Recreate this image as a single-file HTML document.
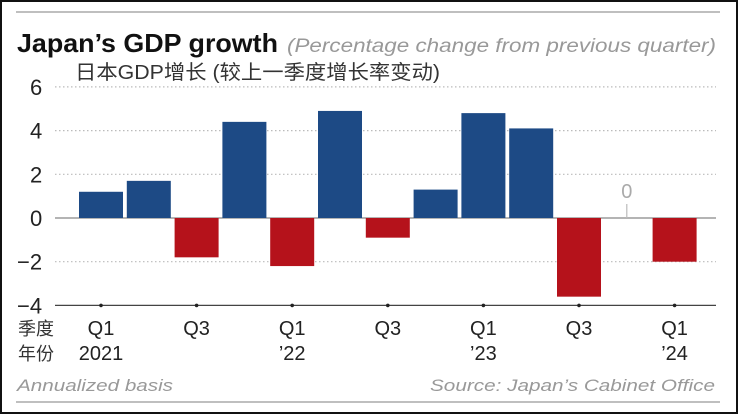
<!DOCTYPE html>
<html><head><meta charset="utf-8"><style>
html,body{margin:0;padding:0;background:#fff;}
body{width:738px;height:414px;overflow:hidden;position:relative;font-family:"Liberation Sans","Noto Sans CJK SC",sans-serif;}
#frame{position:absolute;left:0;top:0;width:734px;height:410px;border:2px solid #111;}
svg{position:absolute;left:0;top:0;}
</style></head><body>
<div id="frame"></div>
<svg id="chart" width="738" height="414">
<line x1="16" y1="12" x2="720" y2="12" stroke="#aaa" stroke-width="1.5"/>
<line x1="16" y1="402" x2="720" y2="402" stroke="#aaa" stroke-width="1.5"/>
<text x="17" y="52" font-size="26" font-weight="bold" fill="#111" textLength="261" lengthAdjust="spacingAndGlyphs">Japan’s GDP growth</text>
<text x="287" y="52" font-size="19" font-style="italic" fill="#999" textLength="429" lengthAdjust="spacingAndGlyphs">(Percentage change from previous quarter)</text>
<text x="75" y="79" font-size="20" fill="#333" textLength="365" lengthAdjust="spacingAndGlyphs">日本GDP增长 (较上一季度增长率变动)</text>
<g id="grid"></g>
<g id="bars"></g>
<g id="xaxis"></g>
<text x="18" y="335" font-size="18" fill="#333">季度</text>
<text x="18" y="360" font-size="18" fill="#333">年份</text>
<text x="17" y="391" font-size="17" font-style="italic" fill="#999" textLength="156" lengthAdjust="spacingAndGlyphs">Annualized basis</text>
<text x="430" y="391" font-size="17" font-style="italic" fill="#999" textLength="285" lengthAdjust="spacingAndGlyphs">Source: Japan’s Cabinet Office</text>
</svg>
<script>
const categories=["Q1 2021","Q2 2021","Q3 2021","Q4 2021","Q1 2022","Q2 2022","Q3 2022","Q4 2022","Q1 2023","Q2 2023","Q3 2023","Q4 2023","Q1 2024"];
const values=[1.2,1.7,-1.8,4.4,-2.2,4.9,-0.9,1.3,4.8,4.1,-3.6,0,-2.0];
const yTicks=[6,4,2,0,-2,-4];
const yTickLabels=["6","4","2","0","\u22122","\u22124"];
const xLabelIdx=[0,2,4,6,8,10,12];
const xLabelTop=["Q1","Q3","Q1","Q3","Q1","Q3","Q1"];
const xLabelBottom=["2021","","\u201922","","\u201923","","\u201924"];
const NS="http://www.w3.org/2000/svg";
const y=v=>218-v*21.85;
const xc=i=>101+i*47.8;
const bw=44;
function mk(t,a,p){const e=document.createElementNS(NS,t);for(const k in a)e.setAttribute(k,a[k]);p.appendChild(e);return e;}
const grid=document.getElementById('grid'),bars=document.getElementById('bars'),xa=document.getElementById('xaxis');
yTicks.forEach((v,i)=>{
  let dash=(v===0||v===-4)?null:"1.5,2.5";
  let a={x1:55,x2:716,y1:y(v),y2:y(v),stroke:v===-4?"#444":(v===0?"#888":"#bbb"),"stroke-width":1.2};
  if(dash)a["stroke-dasharray"]=dash;
  const l=mk('line',a,grid);
  
  
  const t=mk('text',{x:v<0?17:30,y:y(v)+8,"font-size":22,fill:"#222"},grid);t.textContent=yTickLabels[i];
  
  
});
values.forEach((v,i)=>{
  if(v===0){
    const l=mk('line',{x1:xc(i),x2:xc(i),y1:y(0)-14,y2:y(0),stroke:"#bbb","stroke-width":1.2},bars);
    
    
    const t=mk('text',{x:xc(i),y:y(0)-20,"font-size":20,fill:"#aaa","text-anchor":"middle"},bars);t.textContent="0";
    
    
    return;
  }
  const r=mk('rect',{x:xc(i)-bw/2,y:Math.min(y(v),y(0)),width:bw,height:Math.abs(y(v)-y(0)),fill:v>0?"#1d4a85":"#b5121b"},bars);
  
  
});
xLabelIdx.forEach((idx,k)=>{
  const d=mk('circle',{cx:xc(idx),cy:y(-4),r:1.8,fill:"#222"},xa);
  
  
  const t=mk('text',{x:xc(idx),y:335,"font-size":20,fill:"#222","text-anchor":"middle"},xa);t.textContent=xLabelTop[k];
  
  
  if(xLabelBottom[k]){
    const b=mk('text',{x:xc(idx),y:360,"font-size":20,fill:"#222","text-anchor":"middle"},xa);b.textContent=xLabelBottom[k];
    
    
  }
});
</script>
</body></html>
